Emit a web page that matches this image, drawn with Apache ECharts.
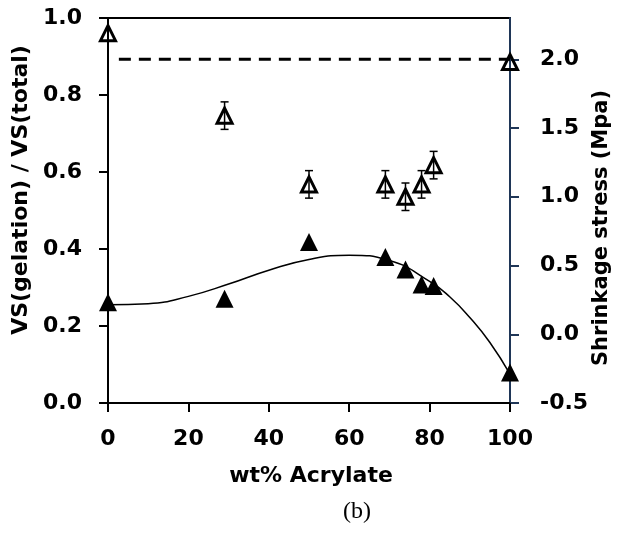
<!DOCTYPE html>
<html>
<head>
<meta charset="utf-8">
<script src="https://cdn.jsdelivr.net/npm/echarts@6/dist/echarts.min.js"></script>
<style>
	html,body{margin:0;padding:0;background:#fff;}
	#chart{width:624px;height:538px;}
</style>
</head>
<body>
<div id="chart"></div>
<script>
//----------------------------
//	data
//----------------------------
var xTicks		= [0, 20, 40, 60, 80, 100];
var leftTicks	= [0.0, 0.2, 0.4, 0.6, 0.8, 1.0];
var rightTicks	= [-0.5, 0.0, 0.5, 1.0, 1.5, 2.0];

// filled triangles  -> VS(gelation)/VS(total), left axis
var gelX	= [0, 29, 50, 69, 74, 78, 81, 100];
var gelY	= [0.262, 0.271, 0.418, 0.379, 0.347, 0.308, 0.304, 0.079];

// trend line through the filled triangles
var trendX	= [0, 10, 20, 30, 40, 50, 60, 70, 80, 85, 90, 95, 100];
var trendY	= [0.255, 0.258, 0.277, 0.309, 0.345, 0.373, 0.384, 0.370, 0.316, 0.276, 0.222, 0.157, 0.075];

// open triangles -> shrinkage stress, right axis
var stressX		= [0, 29, 50, 69, 74, 78, 81, 100];
var stressY		= [2.19, 1.59, 1.09, 1.09, 1.00, 1.09, 1.23, 1.98];
var stressErr	= [0, 0.10, 0.10, 0.10, 0.10, 0.10, 0.10, 0];

// dashed reference line
var dashX	= [2.7, 100];
var dashY	= [2.0, 2.0];

var FONT	= '"DejaVu Sans", sans-serif';
var NAVY	= '#1f3657';

function zip(a,b){
	var r = [];
	for(var i=0;i<a.length;i++) r.push([a[i],b[i]]);
	return r;
}

var errData = [];
for(var i=0;i<stressX.length;i++){
	if(stressErr[i]>0) errData.push([stressX[i], stressY[i]-stressErr[i], stressY[i]+stressErr[i]]);
}

var myChart = echarts.init(document.getElementById('chart'), null, {renderer:'canvas'});

var option = {
	animation: false,
	backgroundColor: '#fff',
	grid: {
		left: 108, right: 114, top: 18, bottom: 135,
		show: true, borderColor: '#000', borderWidth: 2, backgroundColor: 'transparent'
	},
	xAxis: {
		type: 'value', min: 0, max: 100, interval: 20,
		axisLine: { onZero: false, lineStyle: { color: '#000', width: 2 } },
		axisTick: { inside: false, length: 9, lineStyle: { color: '#000', width: 2 } },
		axisLabel: { margin: 25, color: '#000', fontFamily: FONT, fontWeight: 'bold', fontSize: 22,
			customValues: xTicks },
		splitLine: { show: false }
	},
	yAxis: [{
		type: 'value', min: 0, max: 1, interval: 0.2, position: 'left',
		axisLine: { show: true, onZero: false, lineStyle: { color: '#000', width: 2 } },
		axisTick: { show: true, length: 9, lineStyle: { color: '#000', width: 2 } },
		axisLabel: { margin: 26, color: '#000', fontFamily: FONT, fontWeight: 'bold', fontSize: 22,
			customValues: leftTicks,
			formatter: function(v){ return v.toFixed(1); } },
		splitLine: { show: false }
	}, {
		type: 'value', min: -0.5, max: 2.3, interval: 0.5, position: 'right',
		axisLine: { show: true, onZero: false, lineStyle: { color: NAVY, width: 2 } },
		axisTick: { show: true, length: 9, customValues: rightTicks, lineStyle: { color: NAVY, width: 2 } },
		axisLabel: { margin: 30, color: '#000', fontFamily: FONT, fontWeight: 'bold', fontSize: 22,
			customValues: rightTicks,
			formatter: function(v){ return v.toFixed(1); } },
		splitLine: { show: false }
	}],
	series: [{
		name: 'trend', type: 'line', yAxisIndex: 0,
		data: zip(trendX, trendY), smooth: true, symbol: 'none',
		lineStyle: { color: '#000', width: 1.5 }, z: 2
	}, {
		name: 'dash', type: 'line', yAxisIndex: 1,
		data: zip(dashX, dashY), symbol: 'none',
		lineStyle: { color: '#000', width: 3, type: [12, 8] }, z: 2
	}, {
		name: 'VS ratio', type: 'scatter', yAxisIndex: 0,
		data: zip(gelX, gelY), symbol: 'triangle', symbolSize: 18,
		itemStyle: { color: '#000', opacity: 1 }, z: 4
	}, {
		name: 'error', type: 'custom', yAxisIndex: 1,
		data: errData,
		renderItem: function(params, api){
			var lo = api.coord([api.value(0), api.value(1)]);
			var hi = api.coord([api.value(0), api.value(2)]);
			var cw = 4;
			var st = { stroke: '#000', lineWidth: 1.5 };
			return { type: 'group', children: [
				{ type: 'line', shape: { x1: lo[0], y1: lo[1], x2: hi[0], y2: hi[1] }, style: st },
				{ type: 'line', shape: { x1: lo[0]-cw, y1: lo[1], x2: lo[0]+cw, y2: lo[1] }, style: st },
				{ type: 'line', shape: { x1: hi[0]-cw, y1: hi[1], x2: hi[0]+cw, y2: hi[1] }, style: st }
			]};
		}, z: 5
	}, {
		name: 'stress', type: 'scatter', yAxisIndex: 1,
		data: zip(stressX, stressY), symbol: 'triangle', symbolSize: 15,
		itemStyle: { color: 'rgba(255,255,255,0)', borderColor: '#000', borderWidth: 3, opacity: 1 }, z: 4
	}],
	graphic: [{
		type: 'text', x: 21, y: 190, rotation: Math.PI/2,
		style: { text: 'VS(gelation) / VS(total)', align: 'center', verticalAlign: 'middle',
			font: 'bold 22px ' + FONT, fill: '#000' }
	}, {
		type: 'text', x: 602, y: 228, rotation: Math.PI/2,
		style: { text: 'Shrinkage stress (Mpa)', align: 'center', verticalAlign: 'middle',
			font: 'bold 21px ' + FONT, fill: '#000' }
	}, {
		type: 'text', x: 311, y: 476,
		style: { text: 'wt% Acrylate', align: 'center', verticalAlign: 'middle',
			font: 'bold 22px ' + FONT, fill: '#000' }
	}, {
		type: 'text', x: 357, y: 512,
		style: { text: '(b)', align: 'center', verticalAlign: 'middle',
			font: '24px "Liberation Serif", serif', fill: '#000' }
	}]
};

myChart.setOption(option);
</script>
</body>
</html>
